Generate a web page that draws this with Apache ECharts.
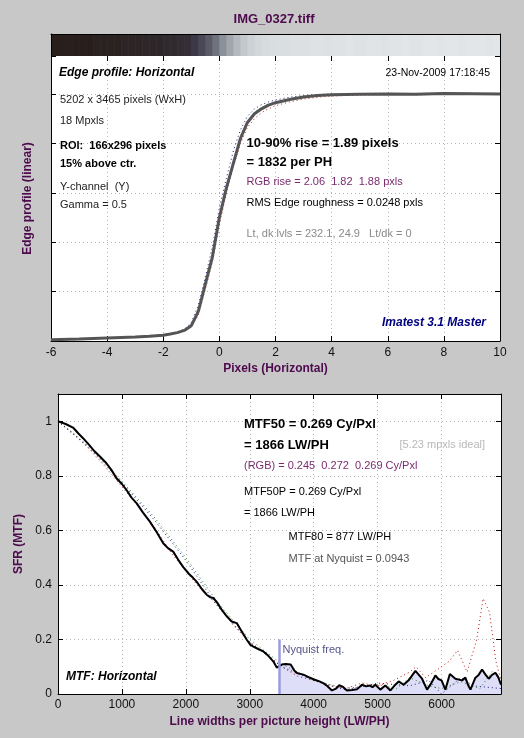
<!DOCTYPE html>
<html><head><meta charset="utf-8">
<script src="https://cdn.jsdelivr.net/npm/echarts@6/dist/echarts.min.js"></script>
<style>html,body{margin:0;padding:0;background:#c8c8c8;}#c{width:524px;height:738px;}</style>
</head><body><div id="c"></div>
<script>
// ---------- Edge profile (top plot) ----------
const edgeX = [-6,-5,-4,-3,-2.5,-2,-1.75,-1.5,-1.25,-1,-0.75,-0.5,-0.25,0,0.25,0.5,0.75,1,1.25,1.5,1.75,2,2.5,3,3.5,4,5,6,7,8,9,10];
const edgeY = [0.005,0.008,0.012,0.016,0.019,0.023,0.028,0.034,0.043,0.062,0.12,0.23,0.34,0.5,0.62,0.72,0.82,0.885,0.92,0.94,0.955,0.965,0.978,0.988,0.994,0.997,0.999,1.0,0.999,1.002,1.001,1.0];
const edgeR = [0.005,0.009,0.012,0.016,0.02,0.024,0.028,0.033,0.041,0.057,0.105,0.21,0.32,0.47,0.6,0.705,0.8,0.865,0.9,0.925,0.94,0.953,0.968,0.98,0.987,0.992,0.996,0.998,0.997,0.999,1.0,0.999];
const edgeG = [0.005,0.008,0.012,0.016,0.019,0.023,0.029,0.035,0.045,0.065,0.125,0.235,0.345,0.505,0.625,0.73,0.83,0.89,0.925,0.945,0.958,0.967,0.98,0.99,0.995,0.998,1.0,1.0,1.0,1.002,1.001,1.0];
const edgeB = [0.004,0.007,0.011,0.015,0.018,0.022,0.028,0.036,0.048,0.074,0.145,0.26,0.38,0.54,0.66,0.77,0.855,0.91,0.94,0.957,0.968,0.976,0.987,0.994,0.998,1.0,1.002,1.003,1.002,1.004,1.003,1.002];
// gray level of the edge image strip, one value per 0.25-pixel band from -6 to 10
const stripStart = -6, stripBand = 0.25;
const stripLevels = [0,0,0,0,0,0,0.01,0.01,0.01,0.01,0.02,0.02,
  0.02,0.03,0.03,0.03,0.04,0.04,0.05,0.06,0.1,0.18,0.28,0.4,
  0.55,0.66,0.76,0.84,0.89,0.92,0.94,0.95,0.96,0.96,0.97,0.97,
  0.97,0.98,0.98,0.97,0.98,0.98,0.99,0.98,0.98,0.99,0.99,0.98,
  0.99,0.99,1.0,0.99,0.99,1.0,1.0,0.99,1.0,1.0,0.99,1.0,1.0,1.0,0.99,1.0];
const edgeXTicks = {min:-6, max:10, step:2};

// ---------- MTF (bottom plot) ----------
const nyquist = 3465;
const lwMax = 6930;
const mtfMain = [[0,1.0],[120,0.99],[235,0.977],[320,0.955],[392,0.938],[480,0.915],[575,0.889],[660,0.87],[758,0.846],[840,0.82],[915,0.791],[1000,0.77],[1072,0.748],[1150,0.72],[1228,0.70],[1330,0.665],[1437,0.632],[1540,0.595],[1646,0.553],[1720,0.535],[1802,0.522],[1881,0.492],[1960,0.465],[2050,0.44],[2116,0.425],[2168,0.412],[2250,0.385],[2325,0.364],[2380,0.355],[2430,0.352],[2490,0.335],[2560,0.309],[2640,0.285],[2717,0.266],[2796,0.26],[2860,0.235],[2953,0.199],[3010,0.18],[3057,0.174],[3130,0.165],[3213,0.156],[3290,0.14],[3370,0.119],[3422,0.097],[3465,0.103],[3501,0.108],[3560,0.11],[3640,0.108],[3700,0.085],[3737,0.077],[3840,0.071],[3920,0.062],[3997,0.054],[4080,0.047],[4150,0.04],[4207,0.03],[4285,0.013],[4350,0.02],[4400,0.032],[4460,0.026],[4520,0.013],[4600,0.015],[4677,0.017],[4755,0.034],[4820,0.028],[4880,0.031],[4920,0.025],[4964,0.034],[5042,0.016],[5120,0.031],[5160,0.022],[5200,0.013],[5260,0.03],[5329,0.046],[5407,0.034],[5485,0.05],[5591,0.085],[5695,0.056],[5773,0.016],[5840,0.04],[5904,0.068],[5950,0.055],[6000,0.05],[6060,0.016],[6130,0.073],[6216,0.056],[6321,0.05],[6373,0.06],[6420,0.03],[6452,0.016],[6530,0.06],[6580,0.07],[6634,0.09],[6690,0.07],[6739,0.056],[6790,0.07],[6843,0.078],[6890,0.06],[6930,0.034]];
const mtfRed = [[0,1.0],[250,0.955],[500,0.895],[750,0.83],[1000,0.76],[1250,0.69],[1500,0.615],[1750,0.525],[2000,0.45],[2250,0.38],[2500,0.325],[2750,0.25],[3000,0.19],[3250,0.15],[3500,0.1],[3750,0.065],[4000,0.05],[4250,0.03],[4500,0.02],[4750,0.04],[5000,0.03],[5250,0.05],[5500,0.08],[5600,0.1],[5750,0.06],[6000,0.1],[6120,0.12],[6250,0.16],[6400,0.08],[6550,0.2],[6650,0.35],[6750,0.3],[6850,0.12],[6930,0.05]];
const mtfGreen = [[0,1.0],[500,0.905],[1000,0.78],[1500,0.65],[2000,0.5],[2500,0.335],[3000,0.2],[3500,0.11],[4000,0.05],[4500,0.02],[5000,0.035],[5300,0.02],[5500,0.06],[5800,0.03],[6000,0.02],[6300,0.045],[6600,0.02],[6800,0.085],[6930,0.06]];
const mtfBlue = [[0,1.0],[500,0.9],[1000,0.775],[1500,0.64],[2000,0.49],[2500,0.32],[3000,0.19],[3500,0.1],[4000,0.05],[4500,0.015],[5000,0.04],[5500,0.03],[5800,0.05],[6000,0.0],[6300,0.06],[6500,0.03],[6930,0.02]];

// ---------- helpers ----------
const FONT = '"Liberation Sans", Arial, sans-serif';
const PURPLE = '#4d0a4d';
const stops = [[0,[40,31,28]],[0.1,[61,56,72]],[0.3,[94,95,106]],[0.55,[138,145,153]],[1,[226,230,232]]];
function levelColor(v){
  for(let i=1;i<stops.length;i++){
    if(v<=stops[i][0]){
      const a=stops[i-1], b=stops[i], t=(v-a[0])/(b[0]-a[0]);
      const c=a[1].map((q,k)=>Math.round(q+(b[1][k]-q)*t));
      return 'rgb('+c.join(',')+')';
    }
  }
  return 'rgb(226,230,232)';
}
const zip = (xs, ys) => xs.map((x,i)=>[x, ys[i]]);
const stripData = stripLevels.map((v,i)=>[stripStart+i*stripBand, stripStart+(i+1)*stripBand, v]);
const dotted = {type:[1,3], color:'#b4b4b4', width:1};
const DOTS = [1,3];
const tickIn = {show:true, inside:true, length:5, lineStyle:{color:'#000'}};
const axLine = {show:true, onZero:false, lineStyle:{color:'#000', width:1}};
const lblStyle = {color:'#111', fontSize:12, fontFamily:FONT, formatter:(v)=>String(v)};

function txt(t, x, y, opt){
  opt = opt||{};
  return {type:'text', z:50, silent:true, style:{
    text:t, x:x, y:y,
    font:(opt.style||'')+' '+(opt.weight||'normal')+' '+(opt.size||11)+'px '+FONT,
    fill:opt.color||'#000',
    align:opt.align||'left', textAlign:opt.align||'left',
    verticalAlign:'middle', textVerticalAlign:'middle'
  }};
}

const chart = echarts.init(document.getElementById('c'), null, {renderer:'canvas'});
chart.setOption({
  animation:false,
  backgroundColor:'#c8c8c8',
  grid:[
    {left:51, top:34, width:449, height:22, show:false},
    {left:51, top:56, width:449, height:285, show:true, backgroundColor:'#fff', borderWidth:0},
    {left:58, top:394, width:443, height:300, show:true, backgroundColor:'#fff', borderWidth:0}
  ],
  xAxis:[
    {gridIndex:0, type:'value', position:'top', min:edgeXTicks.min, max:edgeXTicks.max, z:5,
     axisLine:axLine, axisTick:{show:false}, axisLabel:{show:false}, splitLine:{show:false}},
    {gridIndex:1, type:'value', position:'bottom', min:edgeXTicks.min, max:edgeXTicks.max, interval:edgeXTicks.step,
     axisLine:axLine, axisTick:tickIn, axisLabel:Object.assign({margin:6}, lblStyle),
     splitLine:{show:true, lineStyle:dotted, showMinLine:false, showMaxLine:false},
     name:'Pixels (Horizontal)', nameLocation:'middle', nameGap:22,
     nameTextStyle:{color:PURPLE, fontWeight:'bold', fontSize:12, fontFamily:FONT}},
    {gridIndex:1, type:'value', position:'top', min:edgeXTicks.min, max:edgeXTicks.max, interval:edgeXTicks.step,
     axisLine:{show:false, onZero:false}, axisTick:tickIn, axisLabel:{show:false}, splitLine:{show:false}},
    {gridIndex:2, type:'value', position:'bottom', min:0, max:lwMax, interval:1000,
     axisLine:axLine, axisTick:tickIn, axisLabel:Object.assign({margin:5, showMaxLabel:false}, lblStyle),
     splitLine:{show:true, lineStyle:dotted, showMinLine:false, showMaxLine:false},
     name:'Line widths per picture height (LW/PH)', nameLocation:'middle', nameGap:22,
     nameTextStyle:{color:PURPLE, fontWeight:'bold', fontSize:12, fontFamily:FONT}},
    {gridIndex:2, type:'value', position:'top', min:0, max:lwMax, interval:1000,
     axisLine:axLine, axisTick:tickIn, axisLabel:{show:false}, splitLine:{show:false}}
  ],
  yAxis:[
    {gridIndex:0, type:'value', position:'left', min:0, max:1, z:5,
     axisLine:axLine, axisTick:{show:false}, axisLabel:{show:false}, splitLine:{show:false}},
    {gridIndex:0, type:'value', position:'right', min:0, max:1, z:5,
     axisLine:axLine, axisTick:{show:false}, axisLabel:{show:false}, splitLine:{show:false}},
    {gridIndex:1, type:'value', position:'left', min:0, max:1.154, interval:0.2,
     axisLine:axLine, axisTick:tickIn, axisLabel:{show:false},
     splitLine:{show:true, lineStyle:dotted, showMinLine:false, showMaxLine:false},
     name:'Edge profile (linear)', nameLocation:'middle', nameGap:17, nameRotate:90,
     nameTextStyle:{color:PURPLE, fontWeight:'bold', fontSize:12, fontFamily:FONT}},
    {gridIndex:1, type:'value', position:'right', min:0, max:1.154, interval:0.2,
     axisLine:axLine, axisTick:tickIn, axisLabel:{show:false}, splitLine:{show:false}},
    {gridIndex:2, type:'value', position:'left', min:0, max:1.1, interval:0.2,
     axisLine:axLine, axisTick:tickIn, axisLabel:Object.assign({margin:6, showMaxLabel:false}, lblStyle),
     splitLine:{show:true, lineStyle:dotted, showMinLine:false, showMaxLine:false},
     name:'SFR (MTF)', nameLocation:'middle', nameGap:22, nameRotate:90,
     nameTextStyle:{color:PURPLE, fontWeight:'bold', fontSize:12, fontFamily:FONT}},
    {gridIndex:2, type:'value', position:'right', min:0, max:1.1, interval:0.2,
     axisLine:axLine, axisTick:tickIn, axisLabel:{show:false}, splitLine:{show:false}}
  ],
  series:[
    {type:'custom', xAxisIndex:0, yAxisIndex:0, z:1, silent:true, clip:true,
     data:stripData,
     renderItem:function(params, api){
       const p0 = api.coord([api.value(0), 1]);
       const p1 = api.coord([api.value(1), 0]);
       return {type:'rect', shape:{x:p0[0], y:p0[1], width:p1[0]-p0[0]+0.6, height:p1[1]-p0[1]},
               style:{fill:levelColor(api.value(2))}};
     }},
    {type:'line', xAxisIndex:1, yAxisIndex:2, data:zip(edgeX, edgeB), showSymbol:false, symbol:'none',
     lineStyle:{color:'#1a1a80', width:1, type:DOTS}, z:2},
    {type:'line', xAxisIndex:1, yAxisIndex:2, data:zip(edgeX, edgeR), showSymbol:false, symbol:'none',
     lineStyle:{color:'#c01010', width:1, type:DOTS}, z:2},
    {type:'line', xAxisIndex:1, yAxisIndex:2, data:zip(edgeX, edgeG), showSymbol:false, symbol:'none',
     lineStyle:{color:'#208020', width:1, type:DOTS}, z:2},
    {type:'line', xAxisIndex:1, yAxisIndex:2, data:zip(edgeX, edgeY), showSymbol:false, symbol:'none',
     lineStyle:{color:'#555', width:3}, z:3},

    {type:'line', xAxisIndex:3, yAxisIndex:4, data:mtfMain.filter(p=>p[0]>=nyquist), showSymbol:false, symbol:'none',
     lineStyle:{width:0}, areaStyle:{color:'#dedef8', opacity:1}, z:1,
     markLine:{symbol:'none', silent:true, label:{show:false},
       lineStyle:{color:'#9a9ae0', width:2.5, type:'solid'},
       data:[[{coord:[nyquist,0]},{coord:[nyquist,0.2]}]]}},
    {type:'line', xAxisIndex:3, yAxisIndex:4, data:mtfRed, showSymbol:false, symbol:'none',
     lineStyle:{color:'#c01010', width:1, type:DOTS}, z:2},
    {type:'line', xAxisIndex:3, yAxisIndex:4, data:mtfGreen, showSymbol:false, symbol:'none',
     lineStyle:{color:'#208020', width:1, type:DOTS}, z:2},
    {type:'line', xAxisIndex:3, yAxisIndex:4, data:mtfBlue, showSymbol:false, symbol:'none',
     lineStyle:{color:'#1a1a80', width:1, type:DOTS}, z:2},
    {type:'line', xAxisIndex:3, yAxisIndex:4, data:mtfMain, showSymbol:false, symbol:'none',
     lineStyle:{color:'#000', width:2}, z:3}
  ],
  graphic:[
    txt('IMG_0327.tiff', 274, 19, {weight:'bold', size:13, color:PURPLE, align:'center'}),
    txt('Edge profile: Horizontal', 59, 73, {weight:'bold', style:'italic', size:12}),
    txt('23-Nov-2009 17:18:45', 490, 73, {size:10.5, align:'right'}),
    txt('5202 x 3465 pixels (WxH)', 60, 100, {color:'#222'}),
    txt('18 Mpxls', 60, 121, {color:'#222'}),
    txt('ROI:  166x296 pixels', 60, 146, {weight:'bold'}),
    txt('15% above ctr.', 60, 164, {weight:'bold'}),
    txt('Y-channel  (Y)', 60, 187, {color:'#222'}),
    txt('Gamma = 0.5', 60, 205, {color:'#222'}),
    txt('10-90% rise = 1.89 pixels', 246.5, 143, {weight:'bold', size:13}),
    txt('= 1832 per PH', 246.5, 162, {weight:'bold', size:13}),
    txt('RGB rise = 2.06  1.82  1.88 pxls', 246.5, 182, {color:'#7b2a6e'}),
    txt('RMS Edge roughness = 0.0248 pxls', 246.5, 203, {color:'#000'}),
    txt('Lt, dk lvls = 232.1, 24.9   Lt/dk = 0', 246.5, 234, {color:'#8a8a8a'}),
    txt('Imatest 3.1 Master', 486, 323, {weight:'bold', style:'italic', size:12, color:'#00007f', align:'right'}),

    txt('MTF50 = 0.269 Cy/Pxl', 244, 424, {weight:'bold', size:13}),
    txt('= 1866 LW/PH', 244, 445, {weight:'bold', size:13}),
    txt('[5.23 mpxls ideal]', 399.5, 445, {color:'#b8b8b8'}),
    txt('(RGB) = 0.245  0.272  0.269 Cy/Pxl', 244, 466, {color:'#7b2a6e'}),
    txt('MTF50P = 0.269 Cy/Pxl', 244, 492),
    txt('= 1866 LW/PH', 244, 513),
    txt('MTF80 = 877 LW/PH', 288.5, 537),
    txt('MTF at Nyquist = 0.0943', 288.5, 559, {color:'#555'}),
    txt('Nyquist freq.', 282.5, 649.5, {color:'#55558a'}),
    txt('MTF: Horizontal', 66, 677, {weight:'bold', style:'italic', size:12})
  ]
});
</script></body></html>
